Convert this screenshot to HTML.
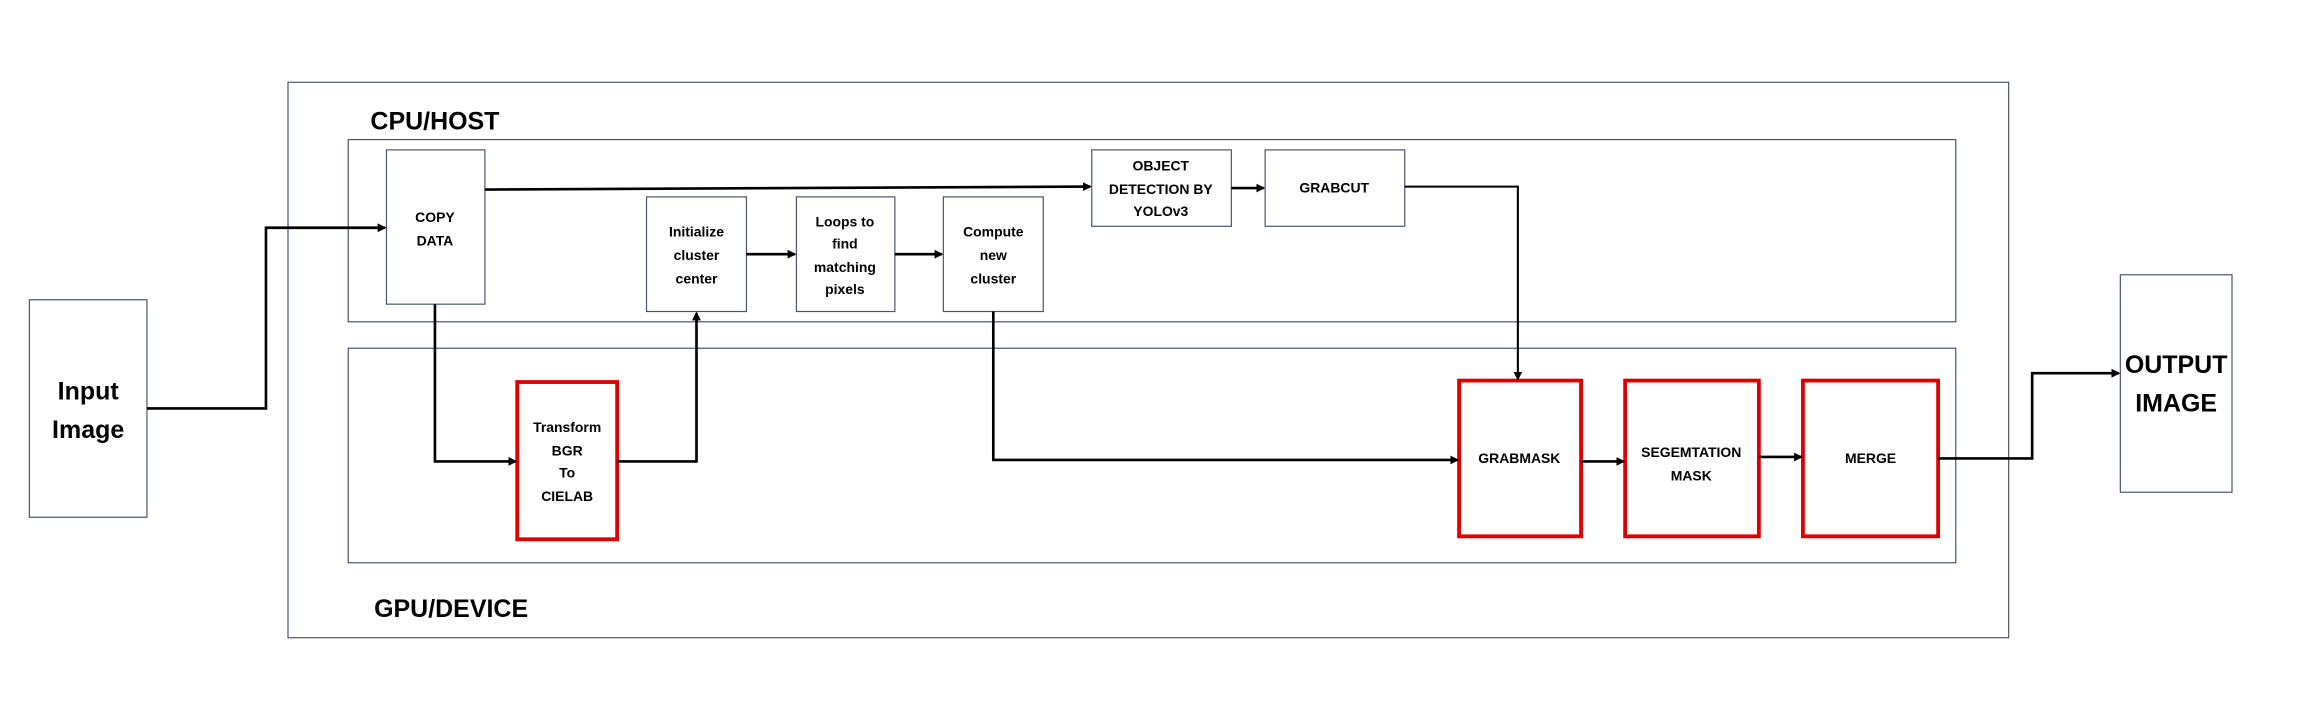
<!DOCTYPE html>
<html><head><meta charset="utf-8"><style>
html,body{margin:0;padding:0;background:#fff}
svg{display:block}
text{font-family:"Liberation Sans",sans-serif;font-weight:bold;fill:#000;text-anchor:middle}
.b{fill:#fff;stroke:#44546a;stroke-width:0.8}
.r{fill:#fff;stroke:#e00000;stroke-width:2.6}
.l{fill:none;stroke:#000;stroke-width:1.8}
.t{font-size:9.5px}
</style></head><body>
<svg width="2304" height="720" viewBox="0 0 1568 490" xmlns="http://www.w3.org/2000/svg">
<defs><marker id="a" markerWidth="6" markerHeight="6" refX="5" refY="3" orient="auto" markerUnits="userSpaceOnUse"><path d="M0,0 L6,3 L0,6 z" fill="#000"/></marker></defs>
<rect class="b" x="196" y="56" width="1171" height="378"/>
<rect class="b" x="237" y="95" width="1094" height="124"/>
<rect class="b" x="237" y="237" width="1094" height="146"/>
<text x="296" y="88" style="font-size:17px">CPU/HOST</text>
<text x="307" y="420" style="font-size:17px">GPU/DEVICE</text>
<rect class="b" x="20" y="204" width="80" height="148"/>
<text x="60" y="272" style="font-size:17px">Input</text>
<text x="60" y="298" style="font-size:17px">Image</text>
<rect class="b" x="1443" y="187" width="76" height="148"/>
<text x="1481" y="254" style="font-size:17px">OUTPUT</text>
<text x="1481" y="280" style="font-size:17px">IMAGE</text>
<rect class="b" x="263" y="102" width="67" height="105"/>
<text class="t" x="296" y="151">COPY</text><text class="t" x="296" y="167">DATA</text>
<rect class="b" x="440" y="134" width="68" height="78"/>
<text class="t" x="474" y="161">Initialize</text><text class="t" x="474" y="177">cluster</text><text class="t" x="474" y="193">center</text>
<rect class="b" x="542" y="134" width="67" height="78"/>
<text class="t" x="575" y="154">Loops to</text><text class="t" x="575" y="169">find</text><text class="t" x="575" y="185">matching</text><text class="t" x="575" y="200">pixels</text>
<rect class="b" x="642" y="134" width="68" height="78"/>
<text class="t" x="676" y="161">Compute</text><text class="t" x="676" y="177">new</text><text class="t" x="676" y="193">cluster</text>
<rect class="b" x="743" y="102" width="95" height="52"/>
<text class="t" x="790" y="116">OBJECT</text><text class="t" x="790" y="132">DETECTION BY</text><text class="t" x="790" y="147">YOLOv3</text>
<rect class="b" x="861" y="102" width="95" height="52"/>
<text class="t" x="908" y="131">GRABCUT</text>
<rect class="r" x="352" y="260" width="68" height="107"/>
<text class="t" x="386" y="294">Transform</text><text class="t" x="386" y="310">BGR</text><text class="t" x="386" y="325">To</text><text class="t" x="386" y="341">CIELAB</text>
<rect class="r" x="993" y="259" width="83" height="106"/>
<text class="t" x="1034" y="315">GRABMASK</text>
<rect class="r" x="1106" y="259" width="91" height="106"/>
<text class="t" x="1151" y="311">SEGEMTATION</text><text class="t" x="1151" y="327">MASK</text>
<rect class="r" x="1227" y="259" width="92" height="106"/>
<text class="t" x="1273" y="315">MERGE</text>
<path class="l" d="M100,278 H181 V155 H262" marker-end="url(#a)"/>
<path class="l" d="M330,129 L742,127" marker-end="url(#a)"/>
<path class="l" d="M296,207 V314 H351" marker-end="url(#a)"/>
<path class="l" d="M420,314 H474 V213" marker-end="url(#a)"/>
<path class="l" d="M508,173 H541" marker-end="url(#a)"/>
<path class="l" d="M609,173 H641" marker-end="url(#a)"/>
<path class="l" d="M838,128 H860" marker-end="url(#a)"/>
<path class="l" d="M956,127 H1033 V258" marker-end="url(#a)" style="stroke-width:1.4"/>
<path class="l" d="M676,212 V313 H992" marker-end="url(#a)"/>
<path class="l" d="M1076,314 H1105" marker-end="url(#a)"/>
<path class="l" d="M1197,311 H1226" marker-end="url(#a)"/>
<path class="l" d="M1319,312 H1383 V254 H1442" marker-end="url(#a)"/>
</svg>
</body></html>
